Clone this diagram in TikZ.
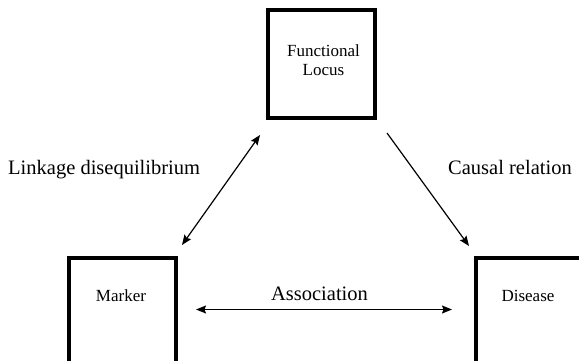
\documentclass[tikz,border=0pt]{standalone}
\usepackage{fontspec}
\setmainfont{Liberation Serif}
\usetikzlibrary{arrows.meta}
\begin{document}
\begin{tikzpicture}[x=1pt,y=-1pt,
  box/.style={draw=black,line width=4pt,minimum width=107pt,minimum height=108pt,inner sep=0pt},
  boxtext/.style={font=\fontsize{17}{19}\selectfont,align=center,inner sep=0pt},
  lbl/.style={font=\fontsize{20.5}{24}\selectfont,inner sep=0pt},
  conn/.style={line width=1.2pt,{Stealth[length=10pt,width=8pt,inset=1.5pt]}-{Stealth[length=10pt,width=8pt,inset=1.5pt]}},
  connone/.style={line width=1.2pt,-{Stealth[length=10pt,width=8pt,inset=1.5pt]}}]
\useasboundingbox (0,0) rectangle (579,361);
\clip (0,0) rectangle (579,361);
% boxes
\node[box] (locus) at (321.5,64) {};
\node[box] (marker) at (122,311.5) {};
\node[box] (disease) at (529.5,311.5) {};
% box texts
\node[boxtext,anchor=base] (locustext) at (323.5,76) {Functional\\Locus};
\node[boxtext,anchor=base] (markertext) at (121,301) {Marker};
\node[boxtext,anchor=base] (diseasetext) at (528,301) {Disease};
% labels
\node[lbl,anchor=base west] (ld) at (8,174.5) {Linkage disequilibrium};
\node[lbl,anchor=base west] (cr) at (448,174.5) {Causal relation};
\node[lbl,anchor=base] (as) at (319.5,300) {Association};
% connector end points
\coordinate (ldA) at (260,135);
\coordinate (ldB) at (182,245);
\coordinate (crA) at (387,133);
\coordinate (crB) at (469,246);
\coordinate (asA) at (196,309.5);
\coordinate (asB) at (452,309.5);
\draw[conn] (ldB) -- (ldA);
\draw[connone] (crA) -- (crB);
\draw[conn] (asA) -- (asB);
\end{tikzpicture}
\end{document}
